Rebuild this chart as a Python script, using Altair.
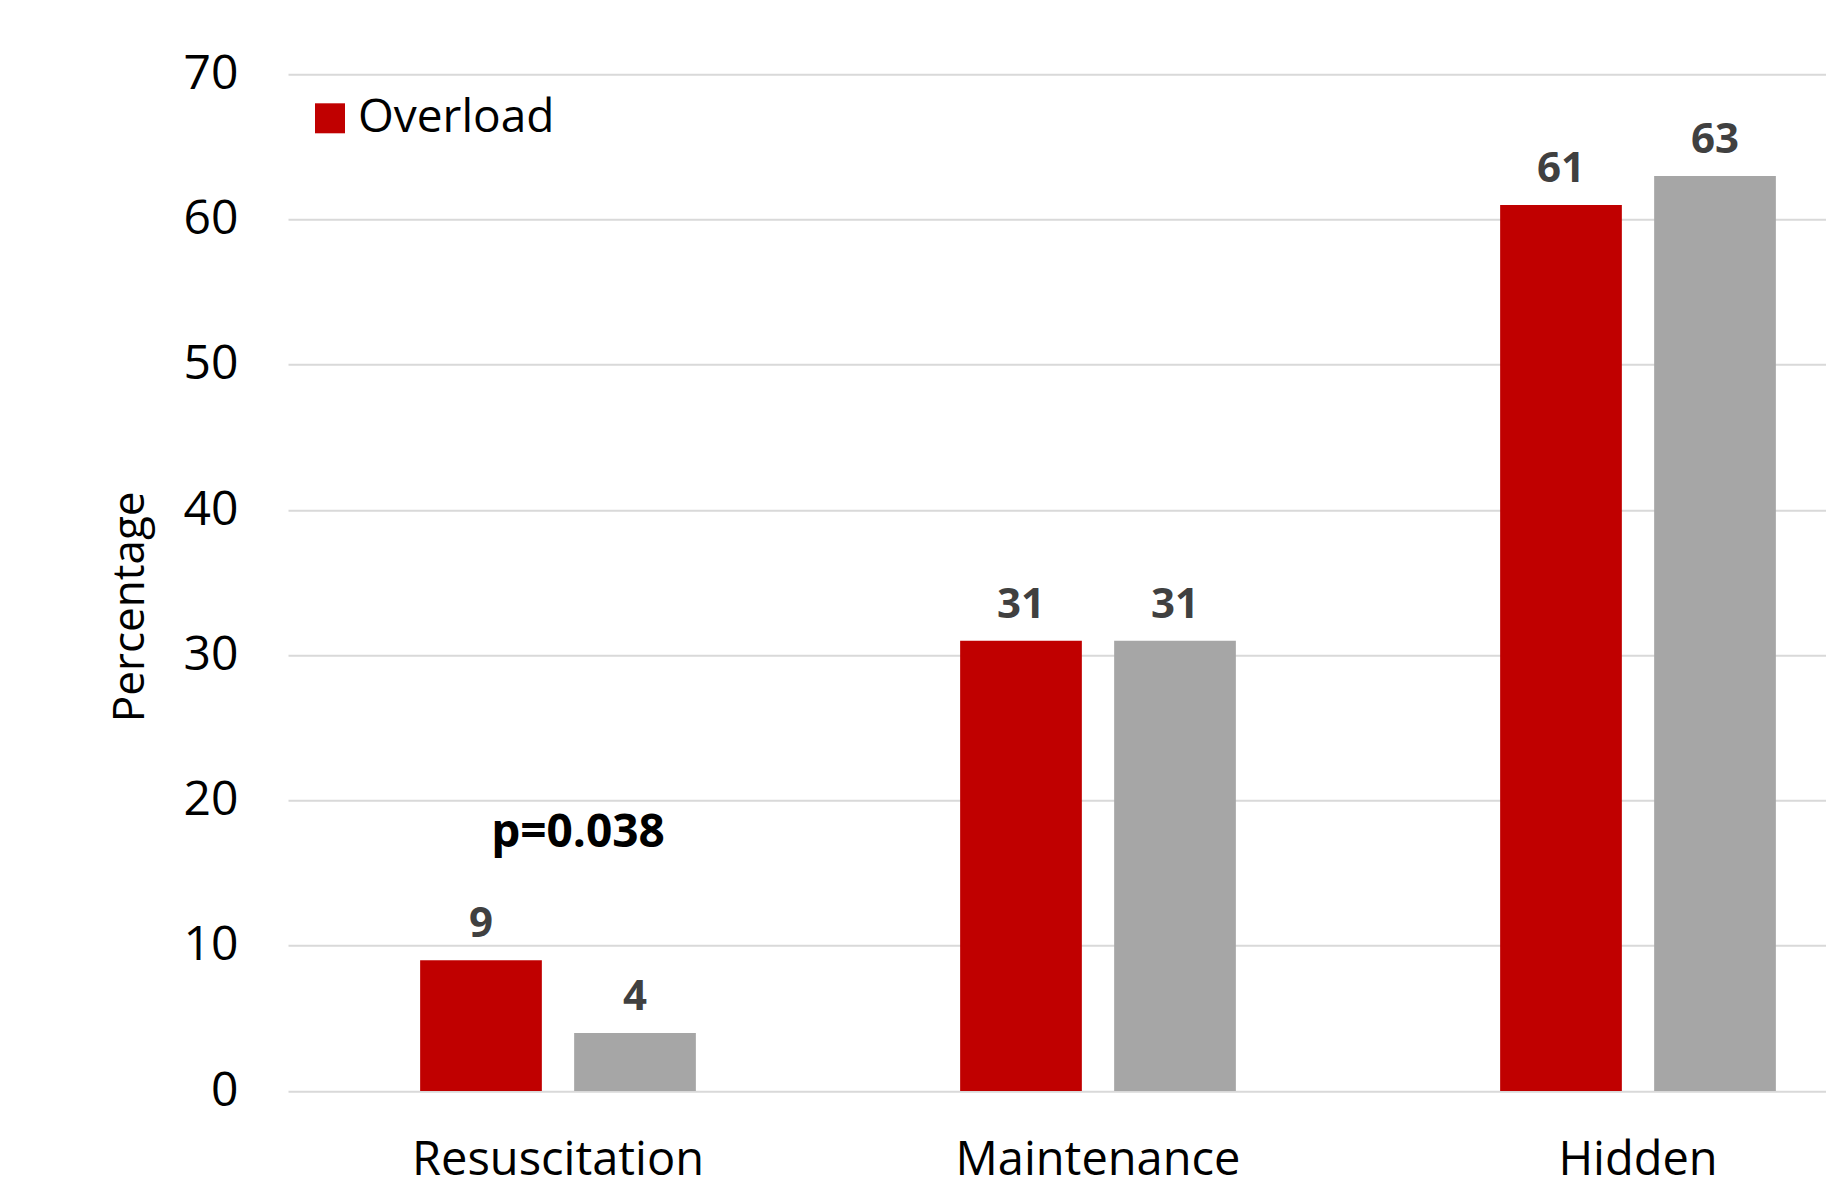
import altair as alt
import pandas as pd

categories = ["Resuscitation", "Maintenance", "Hidden"]
series = ["Overload", "Non-overload"]
overload_values = [9, 31, 61]
non_overload_values = [4, 31, 63]
y_ticks = [0, 10, 20, 30, 40, 50, 60, 70]
series_colors = ["#C00000", "#A6A6A6"]
annotation_category = ["Resuscitation"]
annotation_value = [16.8]
annotation_text = ["p=0.038"]

rows = []
for c, a, b in zip(categories, overload_values, non_overload_values):
    rows.append({"category": c, "group": series[0], "value": a})
    rows.append({"category": c, "group": series[1], "value": b})
df = pd.DataFrame(rows)

ann = pd.DataFrame({"category": annotation_category, "value": annotation_value, "label": annotation_text})

FONT = "Open Sans"

x_enc = alt.X(
    "category:N",
    sort=categories,
    scale=alt.Scale(range=[0, 1620], paddingInner=0, paddingOuter=0),
    axis=alt.Axis(
        title=None, labelFont=FONT, labelFontSize=47, labelColor="black",
        labelBaseline="alphabetic", labelPadding=83, ticks=False, tickSize=0,
        domain=False, grid=False, labelAngle=0, labelLimit=0,
    ),
)
xoff_enc = alt.XOffset("group:N", sort=series, scale=alt.Scale(paddingInner=0.2097, paddingOuter=0.858))
y_enc = alt.Y(
    "value:Q",
    scale=alt.Scale(domain=[0, 70], nice=False, zero=True),
    axis=alt.Axis(
        values=y_ticks, title="Percentage", labelFont=FONT, labelFontSize=48,
        labelColor="black", labelPadding=50, ticks=False, tickSize=0, domain=False,
        grid=True, gridColor="#D9D9D9", gridWidth=2, labelLimit=0,
        titleFont=FONT, titleFontSize=44, titleFontWeight="normal", titleColor="black",
        titleX=-145, titleY=532, titleAngle=270, titleBaseline="alphabetic", titleAlign="center",
    ),
)

bars = alt.Chart(df).mark_bar().encode(
    x=x_enc,
    xOffset=xoff_enc,
    y=y_enc,
    color=alt.Color(
        "group:N",
        sort=series,
        scale=alt.Scale(domain=series, range=series_colors),
        legend=alt.Legend(
            values=[series[0]], orient="none", legendX=19, legendY=21, title=None,
            symbolType="square", symbolSize=900, symbolStrokeWidth=0,
            labelFont=FONT, labelFontSize=46, labelColor="black", labelOffset=5, padding=0,
            labelLimit=0,
        ),
    ),
)

labels = alt.Chart(df).mark_text(
    baseline="alphabetic", dy=-23, font=FONT, fontWeight="bold", fontSize=42, color="#404040"
).encode(
    x=alt.X("category:N", sort=categories),
    xOffset=alt.XOffset("group:N", sort=series),
    y=alt.Y("value:Q"),
    text=alt.Text("value:Q"),
)

pval = alt.Chart(ann).mark_text(
    baseline="alphabetic", dx=20, font=FONT, fontWeight="bold", fontSize=46, color="black"
).encode(
    x=alt.X("category:N", sort=categories),
    y=alt.Y("value:Q"),
    text="label:N",
)

chart = alt.layer(bars, labels, pval).properties(
    width=1538,
    height=1016.7,
    autosize=alt.AutoSizeParams(type="none"),
    padding={"left": 288, "top": 74.3, "right": 0, "bottom": 86},
    background="white",
).configure_view(stroke=None)

chart.save("out.html", embed_options={"renderer": "svg", "actions": False})
